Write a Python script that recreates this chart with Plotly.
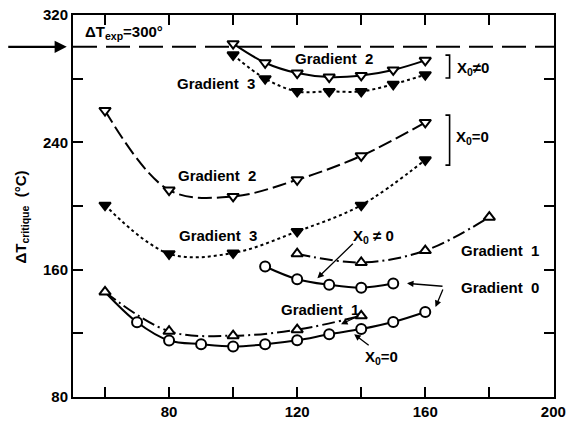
import plotly.graph_objects as go

# Temperature-gradient runs: x positions and critical temperature difference (°C)
x_g2_nz = [100, 110, 120, 130, 140, 150, 160]
y_g2_nz = [302, 290, 283.5, 281, 282, 285.5, 291.5]

x_g3_nz = [100, 110, 120, 130, 140, 150, 160]
y_g3_nz = [295, 280, 272, 272, 272, 276.5, 282.5]

x_g2_z = [60, 80, 100, 120, 140, 160]
y_g2_z = [260, 210, 206, 216.5, 231.5, 252.5]

x_g3_z = [60, 80, 100, 120, 140, 160]
y_g3_z = [200.5, 170, 170.5, 184, 200.5, 229]

x_g1_nz = [120, 140, 160, 180]
y_g1_nz = [170, 164.5, 172, 193]

x_g0_nz = [110, 120, 130, 140, 150]
y_g0_nz = [162, 154, 150.5, 148.7, 151.3]

x_g0_z = [60, 70, 80, 90, 100, 110, 120, 130, 140, 150, 160]
y_g0_z = [146, 127, 115.5, 113.2, 111.8, 113.1, 115.6, 119.4, 122.7, 127.1, 133.4]

x_g1_z = [60, 80, 100, 120, 140]
y_g1_z = [146, 121.3, 118.5, 122.3, 131]

dT_exp = 300

x_ticks = [60, 80, 100, 120, 140, 160, 180, 200]
x_ticktext = ["", "80", "", "120", "", "160", "", "200"]
y_ticks = [80, 120, 160, 200, 240, 280, 320]
y_ticktext = ["80", "", "160", "", "240", "", "320"]

FONT = "Liberation Sans, Arial, sans-serif"
K = "black"
LW = 2
DASHDOT = "13px,4px,2px,4px"
LONGDASH = "14px,5px"

fig = go.Figure()


def series(x, y, symbol, filled, dash, sizes=None):
    size = sizes if sizes else 10
    fig.add_trace(go.Scatter(
        x=x, y=y, mode="lines+markers",
        line=dict(color=K, width=LW, dash=dash, shape="spline", smoothing=1.0),
        marker=dict(symbol=symbol, size=size, color=K if filled else "white",
                    opacity=1, line=dict(color=K, width=2)),
        showlegend=False, cliponaxis=False,
    ))


series(x_g0_z, y_g0_z, "circle", False, "solid", [0] + [10] * (len(x_g0_z) - 1))
series(x_g1_z, y_g1_z, "triangle-up", False, DASHDOT)
series(x_g0_nz, y_g0_nz, "circle", False, "solid")
series(x_g1_nz, y_g1_nz, "triangle-up", False, DASHDOT)
series(x_g3_z, y_g3_z, "triangle-down", True, "dot")
series(x_g2_z, y_g2_z, "triangle-down", False, LONGDASH)
series(x_g3_nz, y_g3_nz, "triangle-down", True, "dot")
series(x_g2_nz, y_g2_nz, "triangle-down", False, "solid")

# experimental temperature difference
fig.add_shape(type="line", xref="paper", x0=0, x1=1, y0=dT_exp, y1=dT_exp,
              line=dict(color=K, width=2, dash="24px,9px"))

ann = []


def label(x, y, text, xanchor="center", xref="x"):
    ann.append(dict(x=x, y=y, xref=xref, yref="y", text=text, showarrow=False,
                    xanchor=xanchor, yanchor="middle",
                    font=dict(family=FONT, size=15, color=K, weight="bold")))


def arrow(x, y, ax, ay, xref="x", width=1.3, head=2, size=1.0):
    ann.append(dict(x=x, y=y, xref=xref, yref="y", text="", showarrow=True,
                    ax=ax, ay=ay, arrowhead=head, arrowsize=size,
                    arrowwidth=width, arrowcolor=K))


label(0.02, 309, "ΔT<sub>exp</sub>=300°", xanchor="left", xref="paper")
label(131.5, 292.5, "Gradient  2")
label(94.8, 277.2, "Gradient  3")
label(95.1, 219.4, "Gradient  2")
label(95.3, 181.6, "Gradient  3")
label(143.7, 180.6, "X<sub>0</sub> ≠ 0")
label(170.5, 172.2, "Gradient  1", xanchor="left")
label(170.5, 148.9, "Gradient  0", xanchor="left")
label(127.2, 135.2, "Gradient  1")
label(146.2, 104.9, "X<sub>0</sub>=0")
label(169.3, 286.5, "X<sub>0</sub>≠0", xanchor="left")
label(168.9, 243.3, "X<sub>0</sub>=0", xanchor="left")

# leader arrows from the labels to their curves
arrow(126.3, 154.6, 37, -36)
arrow(154.3, 151.4, 37, 3)
arrow(163.2, 136.5, 8, -19)
arrow(133.7, 125.7, 19, -9)
arrow(137.8, 119.4, 16, 12)
arrow(-0.013, dT_exp, -60, 0, xref="paper", width=2.2, head=2, size=1.1)

# brackets grouping the upper pairs of curves
for top, bot in [(294.8, 280.4), (257.1, 225.7)]:
    fig.add_shape(type="path",
                  path=f"M 166.3 {top} L 167.6 {top} L 167.6 {bot} L 166.3 {bot}",
                  line=dict(color=K, width=1.6))

# y-axis title
ann.append(dict(x=-0.108, y=0.47, xref="paper", yref="paper",
                text="ΔT<sub>critique</sub>  (°C)", textangle=-90, showarrow=False,
                xanchor="center", yanchor="middle",
                font=dict(family=FONT, size=15, color=K, weight="bold")))

axis_common = dict(showgrid=False, zeroline=False, showline=True, linecolor=K,
                   linewidth=2, mirror="ticks", ticks="inside", ticklen=10,
                   tickwidth=2, tickcolor=K, automargin=False,
                   tickfont=dict(family=FONT, size=15, color=K, weight="bold"))

fig.update_xaxes(range=[50, 200.2], tickvals=x_ticks, ticktext=x_ticktext, **axis_common)
fig.update_yaxes(range=[80, 320], tickvals=y_ticks, ticktext=y_ticktext, **axis_common)

fig.update_layout(
    width=567, height=424,
    margin=dict(l=73, r=13, t=15, b=27),
    paper_bgcolor="white", plot_bgcolor="white",
    annotations=ann,
)

fig.write_html("out.html")
